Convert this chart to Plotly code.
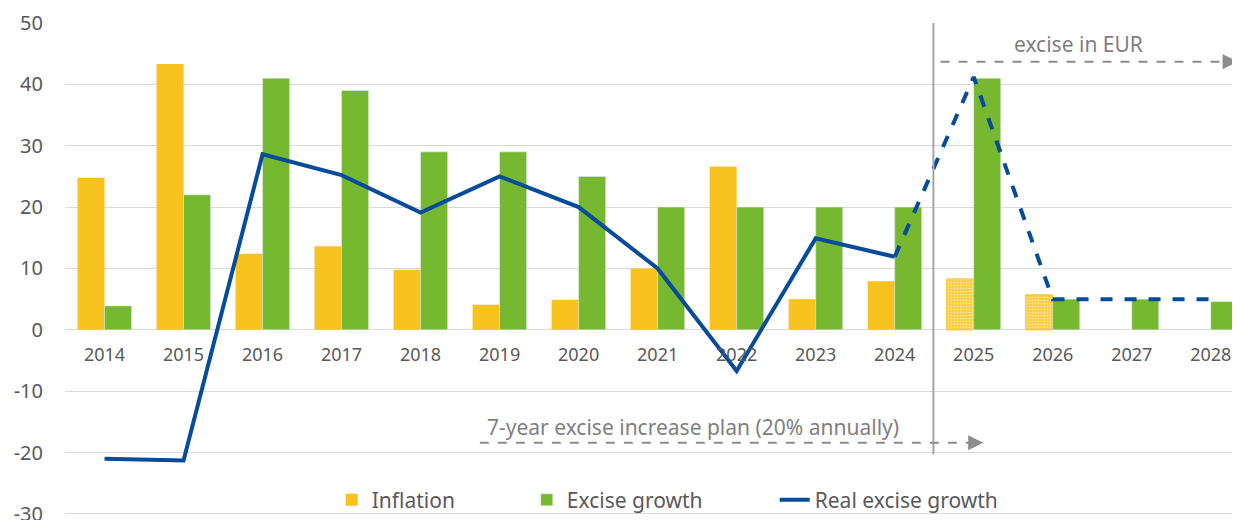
import plotly.graph_objects as go

years = ['2014', '2015', '2016', '2017', '2018', '2019', '2020', '2021',
         '2022', '2023', '2024', '2025', '2026', '2027', '2028']
inflation = [24.8, 43.3, 12.4, 13.6, 9.8, 4.1, 4.9, 10.0, 26.6, 5.0, 7.9,
             8.3, 5.7, None, None]
excise_growth = [3.9, 22.0, 41.0, 39.0, 29.0, 29.0, 25.0, 20.0, 20.0, 20.0,
                 20.0, 41.0, 5.0, 5.0, 4.6]
real_excise = [-21.0, -21.3, 28.6, 25.2, 19.1, 25.0, 20.0, 10.0, -6.7, 14.9,
               11.9, 41.2, 5.0, 5.0, 5.0]
forecast_from = '2024'
y_ticks = [-30, -20, -10, 0, 10, 20, 30, 40, 50]
y_ticklabels = ['-30', '-20', '-10', '0', '10', '20', '30', '40', '50']

yellow = '#F9C31F'
green = '#76B82F'
blue = '#064C9B'
grey_text = '#595959'
note_grey = '#7F7F7F'
arrow_grey = '#8C8C8C'

split = years.index(forecast_from)
is_forecast = [i > split for i in range(len(years))]

fig = go.Figure()
fig.add_trace(go.Bar(
    x=years, y=inflation, name='Inflation', legend='legend',
    marker=dict(
        color=yellow,
        line=dict(color=yellow, width=[1 if f else 0 for f in is_forecast]),
        pattern=dict(shape=['.' if f else '' for f in is_forecast],
                     fillmode='overlay', fgcolor='white', size=3, solidity=0.55),
    ),
))
fig.add_trace(go.Bar(
    x=years, y=excise_growth, name='Excise growth', legend='legend2',
    marker=dict(color=green),
))
fig.add_trace(go.Scatter(
    x=years[:split + 1], y=real_excise[:split + 1], name='Real excise growth',
    legend='legend3', mode='lines', line=dict(color=blue, width=4),
))
fig.add_trace(go.Scatter(
    x=years[split:], y=real_excise[split:], showlegend=False,
    mode='lines', line=dict(color=blue, width=4, dash='dash'),
))

# divider between actual and planned years, plus the two arrows
fig.add_shape(type='line', x0=10.49, x1=10.49, y0=50, y1=-20.3,
              line=dict(color='#A6A6A6', width=2))
fig.add_shape(type='line', x0=10.58, x1=14.15, y0=43.7, y1=43.7,
              line=dict(color=arrow_grey, width=2, dash='dash'))
fig.add_shape(type='line', x0=4.75, x1=10.95, y0=-18.4, y1=-18.4,
              line=dict(color=arrow_grey, width=2, dash='dash'))
fig.add_annotation(x=14.34, y=43.7, ax=-16, ay=0, text='', showarrow=True,
                   arrowhead=2, arrowsize=1.5, arrowwidth=2, arrowcolor=arrow_grey)
fig.add_annotation(x=11.12, y=-18.4, ax=-16, ay=0, text='', showarrow=True,
                   arrowhead=2, arrowsize=1.5, arrowwidth=2, arrowcolor=arrow_grey)
fig.add_annotation(x=12.32, y=46.6, text='excise in EUR', showarrow=False,
                   font=dict(size=21, color=note_grey))
fig.add_annotation(x=7.45, y=-15.8, text='7-year excise increase plan (20% annually)',
                   showarrow=False, font=dict(size=21, color=note_grey))

legend_style = dict(orientation='h', y=0.034, yanchor='middle', xanchor='left',
                    font=dict(size=21, color=grey_text), bgcolor='rgba(0,0,0,0)')

# the page body has an 8px margin, so the figure is offset by that much;
# the bottom of the figure runs past the window so the -30 label gets cut
fig.update_layout(
    width=1232, height=520,
    margin=dict(l=57, r=0, t=15, b=11),
    paper_bgcolor='white', plot_bgcolor='white',
    font=dict(family='Noto Sans', color=grey_text),
    barmode='group', bargap=0.316, bargroupgap=0,
    xaxis=dict(
        type='category', range=[-0.5, 14.37],
        anchor='free', position=30.5 / 80.5,
        showgrid=False, showline=False, zeroline=False, ticks='',
        tickfont=dict(size=18, color=grey_text), ticklabelstandoff=12,
    ),
    yaxis=dict(
        range=[-30.5, 50], tickmode='array', tickvals=y_ticks, ticktext=y_ticklabels,
        showgrid=True, gridcolor='#D9D9D9', gridwidth=1,
        zeroline=True, zerolinecolor='#D9D9D9', zerolinewidth=1,
        showline=False, ticks='', ticklabeloverflow='allow',
        tickfont=dict(size=20, color=grey_text), ticklabelstandoff=21,
    ),
    legend=dict(x=0.227, **legend_style),
    legend2=dict(x=0.393, **legend_style),
    legend3=dict(x=0.604, **legend_style),
    showlegend=True,
)

fig.write_html('out.html')
